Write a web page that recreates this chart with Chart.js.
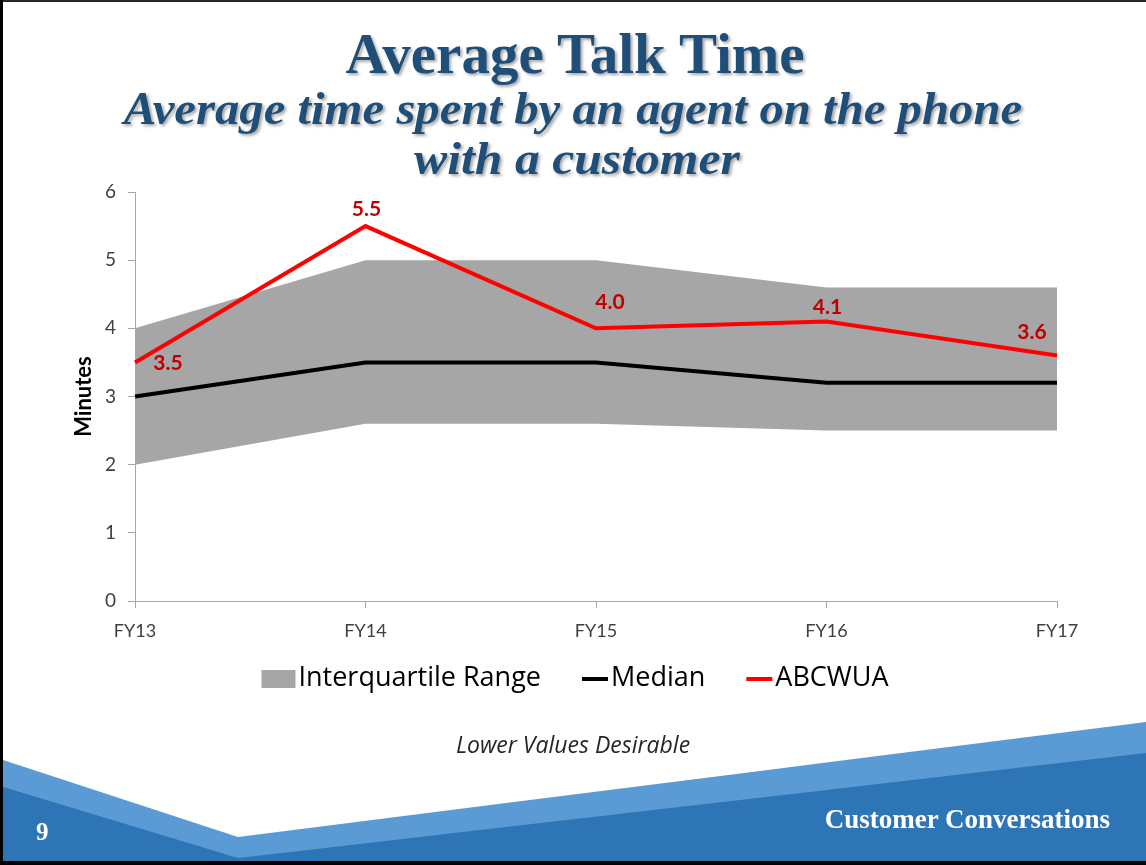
<!DOCTYPE html>
<html>
<head>
<meta charset="utf-8">
<script src="https://cdn.jsdelivr.net/npm/chart.js@4.4.1/dist/chart.umd.min.js"></script>
<style>
  html, body { margin: 0; padding: 0; background: #fff; }
  #slide { position: relative; width: 1146px; height: 865px; overflow: hidden; background: #fff; }
  #deco { position: absolute; left: 0; top: 0; }
  #chart { position: absolute; left: 0; top: 0; }
  .txt { position: absolute; white-space: nowrap; }
  .ttl { left: 0; width: 1146px; text-align: center; color: #1F4E79;
         font-family: "Liberation Serif", serif; font-weight: bold;
         text-shadow: 2px 2px 3px rgba(0,0,0,0.35); }
  #title { top: 21px; left: 2px; font-size: 57px; }
  #sub1 { top: 82px; font-size: 46px; font-style: italic; transform: scaleX(1.06); }
  #sub2 { top: 132px; left: 4px; font-size: 46px; font-style: italic; transform: scaleX(1.08); }
  #note { left: 0; width: 1146px; text-align: center; top: 728px; font-family: "Open Sans", sans-serif;
          font-style: italic; font-size: 23px; color: #262626; }
  #page { left: 36px; top: 818px; font-family: "Liberation Serif", serif; font-weight: bold; font-size: 25px; color: #fff; }
  #footer { right: 36px; top: 804px; font-family: "Liberation Serif", serif; font-weight: bold; font-size: 27px; color: #fff; }
</style>
</head>
<body>
<div id="slide">
  <svg id="deco" width="1146" height="865" viewBox="0 0 1146 865">
    <polygon points="0,759 238,837 1146,722 1146,865 0,865" fill="#5B9BD5"/>
    <polygon points="0,786 238,858 1146,753 1146,865 0,865" fill="#2E75B6"/>
    <rect x="0" y="0" width="1146" height="2" fill="#262626"/>
    <rect x="0" y="0" width="3" height="865" fill="#000"/>
    <rect x="0" y="861" width="1146" height="4" fill="#000"/>
  </svg>
  <canvas id="chart" width="1146" height="865"></canvas>
  <div class="txt ttl" id="title">Average Talk Time</div>
  <div class="txt ttl" id="sub1">Average time spent by an agent on the phone</div>
  <div class="txt ttl" id="sub2">with a customer</div>
  <div class="txt" id="note">Lower Values Desirable</div>
  <div class="txt" id="page">9</div>
  <div class="txt" id="footer">Customer Conversations</div>
</div>
<script>
// Fiscal years on the x axis
const categories = ['FY13', 'FY14', 'FY15', 'FY16', 'FY17'];
// Interquartile band of peer utilities (minutes)
const iqrLow  = [2.0, 2.6, 2.6, 2.5, 2.5];
const iqrHigh = [4.0, 5.0, 5.0, 4.6, 4.6];
// Peer median (minutes)
const median  = [3.0, 3.5, 3.5, 3.2, 3.2];
// ABCWUA average talk time (minutes)
const abcwua  = [3.5, 5.5, 4.0, 4.1, 3.6];
// Y axis ticks
const yTicks  = [0, 1, 2, 3, 4, 5, 6];

const AXIS_GRAY = '#A6A6A6';
const TICK_TEXT = '#404040';

// Value labels next to the ABCWUA points
const valueLabels = {
  id: 'valueLabels',
  afterDatasetsDraw(chart, args, opts) {
    const ctx = chart.ctx;
    const meta = chart.getDatasetMeta(opts.datasetIndex);
    const ds = chart.data.datasets[opts.datasetIndex];
    ctx.save();
    ctx.font = opts.font;
    ctx.fillStyle = opts.color;
    ctx.textAlign = 'center';
    ctx.textBaseline = 'middle';
    meta.data.forEach((pt, i) => {
      const off = opts.offsets[i] || [0, -16];
      ctx.fillText(ds.data[i].toFixed(1), pt.x + off[0], pt.y + off[1]);
    });
    ctx.restore();
  }
};

// Legend row under the x axis
const bottomLegend = {
  id: 'bottomLegend',
  afterDraw(chart, args, opts) {
    const ctx = chart.ctx;
    ctx.save();
    ctx.font = opts.font;
    ctx.textBaseline = 'middle';
    ctx.textAlign = 'left';
    const items = opts.datasets.map(i => {
      const ds = chart.data.datasets[i];
      const isBox = ds.fill && ds.fill !== false;
      const mw = isBox ? opts.boxWidth : opts.lineLength;
      return { ds, isBox, mw, tw: ctx.measureText(ds.label).width };
    });
    let total = 0;
    items.forEach((it, k) => { total += it.mw + opts.textGap + it.tw + (k ? opts.itemGap : 0); });
    let x = opts.centerX - total / 2;
    const y = opts.centerY;
    items.forEach((it, k) => {
      if (k) x += opts.itemGap;
      if (it.isBox) {
        ctx.fillStyle = it.ds.backgroundColor;
        ctx.fillRect(x, y - opts.boxHeight / 2 + 1, it.mw, opts.boxHeight);
      } else {
        ctx.strokeStyle = it.ds.borderColor;
        ctx.lineWidth = it.ds.borderWidth;
        ctx.beginPath();
        ctx.moveTo(x, y + 1);
        ctx.lineTo(x + it.mw, y + 1);
        ctx.stroke();
      }
      x += it.mw + opts.textGap;
      ctx.fillStyle = opts.color;
      ctx.fillText(it.ds.label, x, y);
      x += it.tw;
    });
    ctx.restore();
  }
};

const chart = new Chart(document.getElementById('chart'), {
  type: 'line',
  data: {
    labels: categories,
    datasets: [
      { label: 'IQR low', data: iqrLow, borderWidth: 0, pointRadius: 0, fill: false, borderColor: 'rgba(0,0,0,0)' },
      { label: 'Interquartile Range', data: iqrHigh, borderWidth: 0, pointRadius: 0, borderColor: 'rgba(0,0,0,0)',
        backgroundColor: '#A6A6A6', fill: '-1' },
      { label: 'Median', data: median, borderColor: '#000000', borderWidth: 4, pointRadius: 0, fill: false },
      { label: 'ABCWUA', data: abcwua, borderColor: '#FF0000', borderWidth: 4, pointRadius: 0, fill: false }
    ]
  },
  options: {
    responsive: false,
    animation: false,
    events: [],
    layout: { padding: { top: 192, right: 89, bottom: 219, left: 0 } },
    elements: { line: { tension: 0, borderJoinStyle: 'miter', borderCapStyle: 'butt' } },
    scales: {
      x: {
        type: 'category',
        offset: false,
        grid: { drawOnChartArea: false, drawTicks: true, tickLength: 7, color: AXIS_GRAY },
        border: { color: AXIS_GRAY, width: 1 },
        ticks: { color: TICK_TEXT, font: { family: 'Lato', size: 18 }, padding: 12, maxRotation: 0 },
        afterFit(scale) { scale.height = 45; }
      },
      y: {
        min: 0, max: 6,
        afterBuildTicks(scale) { scale.ticks = yTicks.map(v => ({ value: v })); },
        grid: { drawOnChartArea: false, drawTicks: true, tickLength: 7, color: AXIS_GRAY },
        border: { color: AXIS_GRAY, width: 1 },
        ticks: { color: TICK_TEXT, font: { family: 'Lato', size: 19 }, padding: 12 },
        title: { display: true, text: 'Minutes', color: '#000', font: { family: 'Lato', size: 22, weight: 'bold' },
                 padding: { top: 71, bottom: 0 } },
        afterFit(scale) { scale.width = 135; }
      }
    },
    plugins: {
      legend: { display: false },
      tooltip: { enabled: false },
      filler: { drawTime: 'beforeDatasetsDraw' },
      valueLabels: {
        datasetIndex: 3,
        font: 'bold 21px Lato',
        color: '#C00000',
        offsets: [[33, 1], [1, -17], [14, -26], [1, -14], [-25, -23]]
      },
      bottomLegend: {
        datasets: [1, 2, 3],
        font: '27px "Open Sans"',
        color: '#000',
        centerX: 575, centerY: 678,
        boxWidth: 34, boxHeight: 18, lineLength: 26,
        textGap: 3, itemGap: 41
      }
    }
  },
  plugins: [valueLabels, bottomLegend]
});

// Redraw once the canvas fonts are available
Promise.all(['bold 22px Lato', '19px Lato', 'bold 21px Lato', '27px "Open Sans"'].map(f => document.fonts.load(f)))
  .then(() => chart.update('none'));
</script>
</body>
</html>
